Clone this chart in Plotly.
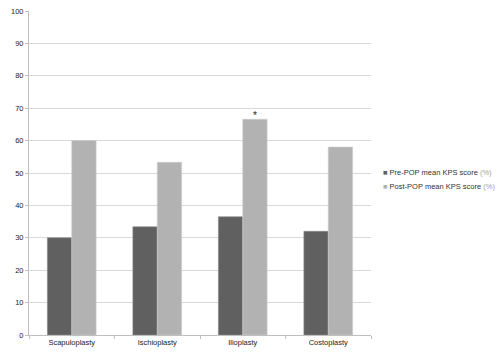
import plotly.graph_objects as go

categories = ["Scapuloplasty", "Ischioplasty", "Ilioplasty", "Costoplasty"]
pre_pop = [30.0, 33.4, 36.5, 32.0]
post_pop = [60.0, 53.3, 66.6, 58.0]
y_ticks = [0, 10, 20, 30, 40, 50, 60, 70, 80, 90, 100]
series_names = ["Pre-POP mean KPS score", "Post-POP mean KPS score"]
series_colors = ["#606060", "#b2b2b2"]

FONT = "Liberation Sans, Arial, sans-serif"

fig = go.Figure()
fig.add_trace(go.Bar(
    x=categories, y=pre_pop, name=series_names[0], showlegend=False,
    marker=dict(color=series_colors[0], line=dict(color="#8a8a8a", width=0.6)),
))
fig.add_trace(go.Bar(
    x=categories, y=post_pop, name=series_names[1], showlegend=False,
    marker=dict(color=series_colors[1], line=dict(color="#cfcfcf", width=0.6)),
))

fig.add_annotation(x=categories[2], y=post_pop[2], text="*", showarrow=False,
                   xshift=12, yshift=4, font=dict(size=10, color="#222", family=FONT))

# legend entries to the right of the plot
for i, (nm, col) in enumerate(zip(series_names, series_colors)):
    fig.add_annotation(
        xref="paper", yref="paper", x=1.028, y=0.502 - i * 0.0435,
        xanchor="left", yanchor="middle", showarrow=False,
        text=f'<span style="color:{col}">■</span> {nm} <span style="color:#a0a0a0">(%)</span>',
        font=dict(size=7.5, color="#333", family=FONT),
    )

fig.update_layout(
    width=500, height=364,
    margin=dict(l=29, r=129, t=11, b=29, autoexpand=False),
    paper_bgcolor="white", plot_bgcolor="white",
    barmode="group", bargap=0.43, bargroupgap=0,
    font=dict(family=FONT, size=7.5, color="#333"),
    showlegend=False,
    xaxis=dict(showgrid=False, showline=True, linecolor="#bfbfbf", linewidth=1,
               ticks="outside", ticklen=3, tickcolor="#bfbfbf",
               tickson="boundaries", tickfont=dict(size=7.5, color="#222")),
    yaxis=dict(range=[0, 100], tickvals=y_ticks, showgrid=True, gridcolor="#d9d9d9",
               gridwidth=1, showline=True, linecolor="#bfbfbf", linewidth=1,
               ticks="outside", ticklen=3, tickcolor="#bfbfbf",
               tickfont=dict(size=7.5, color="#222"), zeroline=False),
)

fig.write_html("out.html", config={"displayModeBar": False},
               post_script="document.body.style.margin='0';")
